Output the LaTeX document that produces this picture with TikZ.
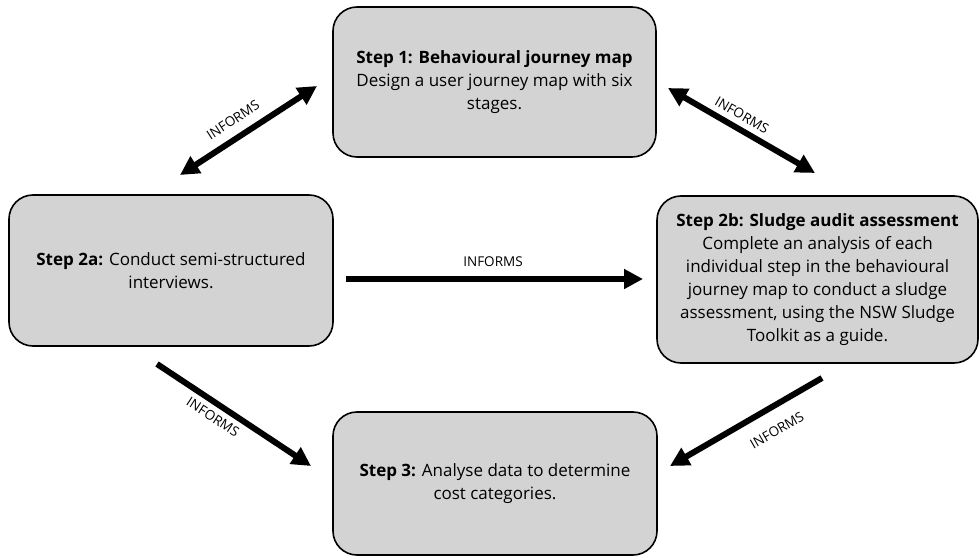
\documentclass[tikz,border=0pt]{standalone}
\usepackage{fontspec}
\setmainfont{Open Sans}
\usetikzlibrary{arrows.meta}
\definecolor{boxgray}{RGB}{211,211,211}
\tikzset{
  stepbox/.style={draw=black, line width=1.6bp, fill=boxgray, rounded corners=24bp,
    align=center, inner sep=0pt, font=\fontsize{17bp}{23bp}\selectfont},
  onearrow/.style={line width=6bp, -{Triangle[length=19bp,width=19bp]}},
  twoarrow/.style={line width=6bp, {Triangle[length=19bp,width=19bp]}-{Triangle[length=19bp,width=19bp]}},
  lbl/.style={font=\fontsize{13.5bp}{15bp}\selectfont, inner sep=0pt}
}
\begin{document}
\begin{tikzpicture}[x=1bp,y=-1bp]
\useasboundingbox (0,0) rectangle (980,560);
\node[stepbox, minimum width=323bp, minimum height=150bp] (s1) at (494.5,82)
  {\textbf{Step 1: Behavioural journey map}\\Design a user journey map with six\\stages.};
\node[stepbox, minimum width=324bp, minimum height=151bp] (s2a) at (171,270.5)
  {\textbf{Step 2a:} Conduct semi-structured\\interviews.};
\node[stepbox, minimum width=321bp, minimum height=167bp] (s2b) at (817.5,279.5)
  {\textbf{Step 2b: Sludge audit assessment}\\Complete an analysis of each\\individual step in the behavioural\\journey map to conduct a sludge\\assessment, using the NSW Sludge\\Toolkit as a guide.};
\node[stepbox, minimum width=324bp, minimum height=143bp] (s3) at (495,483.5)
  {\textbf{Step 3:} Analyse data to determine\\cost categories.};

\coordinate (tlA) at (180,175);
\coordinate (tlB) at (317,86);
\coordinate (trA) at (668,88);
\coordinate (trB) at (815,173);
\coordinate (mA) at (346,279);
\coordinate (mB) at (643,279);
\coordinate (blA) at (157,364);
\coordinate (blB) at (311,466);
\coordinate (brA) at (822,378);
\coordinate (brB) at (670,466);

\draw[twoarrow] (tlA) -- (tlB);
\draw[twoarrow] (trA) -- (trB);
\draw[onearrow] (mA) -- (mB);
\draw[onearrow] (blA) -- (blB);
\draw[onearrow] (brA) -- (brB);

\node[lbl, rotate=33] (l1) at (233,120) {INFORMS};
\node[lbl, rotate=-30] (l2) at (742,115) {INFORMS};
\node[lbl] (l3) at (493,262) {INFORMS};
\node[lbl, rotate=-33] (l4) at (213,417) {INFORMS};
\node[lbl, rotate=30] (l5) at (777,430) {INFORMS};
\end{tikzpicture}
\end{document}
